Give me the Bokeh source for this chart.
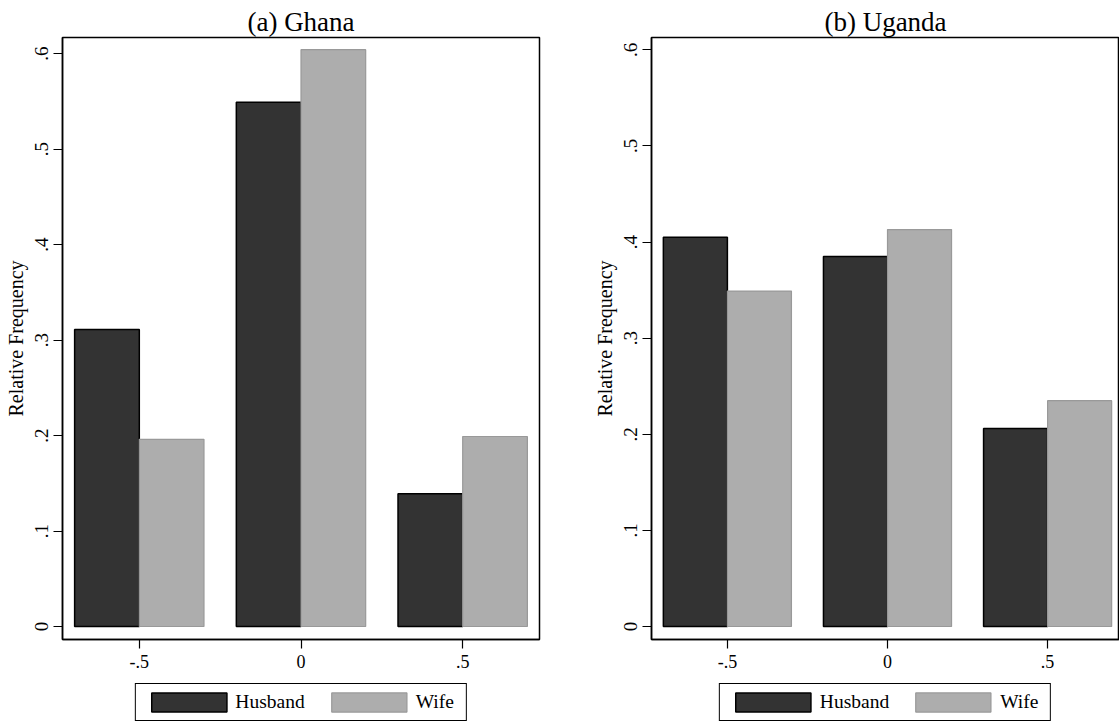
from bokeh.plotting import figure
from bokeh.layouts import row, column
from bokeh.models import FixedTicker, Legend, LegendItem, Range1d
from bokeh.embed import file_html
from bokeh.resources import INLINE

# ---- data ----
categories = [-0.5, 0.0, 0.5]
ghana_husband = [0.311, 0.549, 0.139]
ghana_wife = [0.196, 0.604, 0.199]
uganda_husband = [0.405, 0.385, 0.206]
uganda_wife = [0.349, 0.413, 0.235]
y_ticks = [0.0, 0.1, 0.2, 0.3, 0.4, 0.5, 0.6]
y_tick_labels = ["0", ".1", ".2", ".3", ".4", ".5", ".6"]
x_ticks = [-0.5, 0.0, 0.5]
x_tick_labels = ["-.5", "0", ".5"]
series_names = ["Husband", "Wife"]

FONT = "Liberation Serif"
HUSB_FILL, HUSB_LINE = "#333333", "#000000"
WIFE_FILL, WIFE_LINE = "#adadad", "#999999"
BAR_W = 0.2
MAIN_H = 676
LEG_H = 48


def add_bars(p, husband, wife):
    hx = [c - BAR_W / 2 for c in categories]
    wx = [c + BAR_W / 2 for c in categories]
    r1 = p.vbar(x=hx, top=husband, width=BAR_W, bottom=0,
                fill_color=HUSB_FILL, line_color=HUSB_LINE, line_width=1.5)
    r2 = p.vbar(x=wx, top=wife, width=BAR_W, bottom=0,
                fill_color=WIFE_FILL, line_color=WIFE_LINE, line_width=1.2)
    return r1, r2


def make_panel(title, husband, wife, width, x_range, y_range, border_left, border_right):
    p = figure(width=width, height=MAIN_H, output_backend="svg", toolbar_location=None,
               x_range=Range1d(*x_range), y_range=Range1d(*y_range),
               min_border_left=border_left, min_border_right=border_right,
               min_border_top=37, min_border_bottom=37)
    p.title.text = title
    p.title.align = "center"
    p.title.text_font = FONT
    p.title.text_font_style = "normal"
    p.title.text_font_size = "27px"
    p.title.text_color = "#000000"
    p.title.standoff = 2

    add_bars(p, husband, wife)

    p.xgrid.visible = False
    p.ygrid.visible = False
    p.outline_line_color = "#000000"
    p.outline_line_width = 1.5
    p.background_fill_color = "white"
    p.border_fill_color = "white"

    for ax in (p.xaxis[0], p.yaxis[0]):
        ax.axis_line_color = "#000000"
        ax.axis_line_width = 1.5
        ax.major_tick_line_color = "#000000"
        ax.major_tick_line_width = 1.2
        ax.major_tick_out = 9
        ax.major_tick_in = 0
        ax.minor_tick_line_color = None
        ax.major_label_text_font = FONT
        ax.major_label_text_color = "#000000"

    p.xaxis.ticker = FixedTicker(ticks=x_ticks)
    p.xaxis.major_label_overrides = dict(zip(x_ticks, x_tick_labels))
    p.xaxis.major_label_standoff = 6
    p.xaxis.major_label_text_font_size = "18px"

    p.yaxis.ticker = FixedTicker(ticks=y_ticks)
    p.yaxis.major_label_overrides = dict(zip(y_ticks, y_tick_labels))
    p.yaxis.major_label_orientation = "vertical"
    p.yaxis.major_label_standoff = 5
    p.yaxis.major_label_text_font_size = "19px"
    p.yaxis.axis_label = "Relative Frequency"
    p.yaxis.axis_label_text_font = FONT
    p.yaxis.axis_label_text_font_style = "normal"
    p.yaxis.axis_label_text_font_size = "20px"
    p.yaxis.axis_label_text_color = "#000000"
    p.yaxis.axis_label_standoff = 6
    return p


def make_legend(width, border_left, husband, wife):
    # legend-only strip: its bars are shrunk to a sliver hidden behind the legend box
    q = figure(width=width, height=LEG_H, output_backend="svg", toolbar_location=None,
               x_range=Range1d(-100, 100), y_range=Range1d(-100, 100),
               x_axis_location=None, y_axis_location=None,
               min_border_left=border_left, min_border_right=0,
               min_border_top=0, min_border_bottom=0)
    q.xgrid.visible = False
    q.ygrid.visible = False
    q.outline_line_color = None
    r1, r2 = add_bars(q, husband, wife)
    legend = Legend(items=[LegendItem(label=series_names[0], renderers=[r1]),
                           LegendItem(label=series_names[1], renderers=[r2])],
                    orientation="horizontal", location="bottom_center")
    legend.glyph_width = 94
    legend.glyph_height = 24
    legend.label_standoff = 0
    legend.label_width = 44
    legend.spacing = 17
    legend.padding = 6
    legend.margin = 3
    legend.label_text_font = FONT
    legend.label_text_font_size = "19.5px"
    legend.label_text_color = "#000000"
    legend.border_line_color = "#000000"
    legend.border_line_alpha = 1.0
    legend.border_line_width = 1.2
    legend.background_fill_color = "white"
    legend.background_fill_alpha = 1.0
    q.add_layout(legend, "center")
    return q


p1 = make_panel("(a) Ghana", ghana_husband, ghana_wife, 575,
                (-0.7375, 0.7375), (-0.0136, 0.6168), 62, 36)
p2 = make_panel("(b) Uganda", uganda_husband, uganda_wife, 544,
                (-0.737, 0.7245), (-0.0135, 0.6128), 72, 0)
l1 = make_legend(575, 27, ghana_husband, ghana_wife)
l2 = make_legend(544, 76, uganda_husband, uganda_wife)

layout = row(column(p1, l1, spacing=0), column(p2, l2, spacing=0), spacing=0)
open("out.html", "w").write(file_html(layout, INLINE))
